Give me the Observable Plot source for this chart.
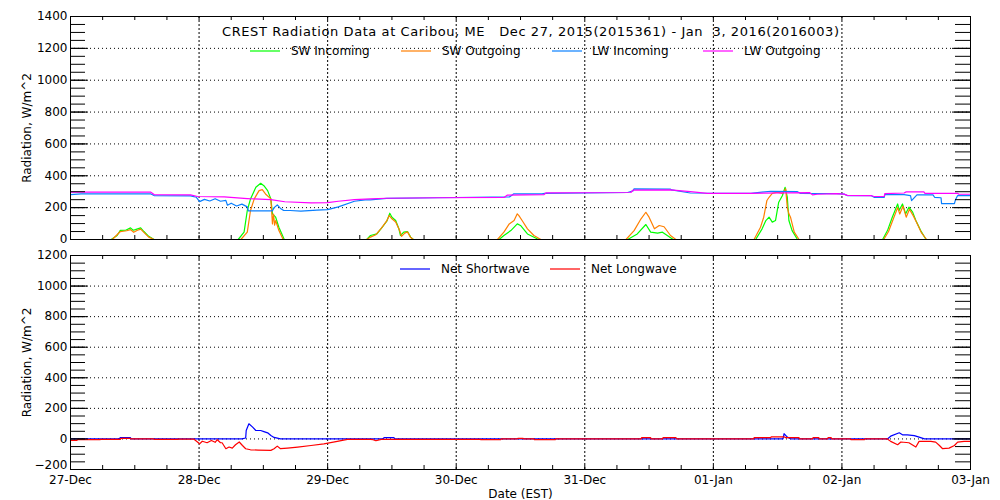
<!DOCTYPE html>
<html><head><meta charset="utf-8">
<script src="https://cdn.jsdelivr.net/npm/d3@7"></script>
<script src="https://cdn.jsdelivr.net/npm/@observablehq/plot@0.6"></script>
<style>
body{margin:0;background:#fff;}
#chart{position:relative;width:1000px;height:500px;background:#fff;}
#chart svg{position:absolute;left:0;}
</style></head><body><div id="chart"></div>
<script>
// ---- tick/axis data ----
const xTickHours = [0,24,48,72,96,120,144,168];
const xTickLabels = ["27-Dec","28-Dec","29-Dec","30-Dec","31-Dec","01-Jan","02-Jan","03-Jan"];
const topYTicks = [0,200,400,600,800,1000,1200,1400];
const bottomYTicks = [-200,0,200,400,600,800,1000,1200];
const titleText = "CREST Radiation Data at Caribou, ME   Dec 27, 2015(2015361) - Jan  3, 2016(2016003)";
const yLabel = "Radiation, W/m^2";
const xLabel = "Date (EST)";
const topNames = ["SW Incoming","SW Outgoing","LW Incoming","LW Outgoing"];
const topColors = ["#00ff00","#ff7f00","#0a80ff","#ff00ff"];
const bottomNames = ["Net Shortwave","Net Longwave"];
const bottomColors = ["#0000ff","#ff0000"];

// ---- series: [hours since 27-Dec 00:00 EST, W/m^2] ----
const swIncoming = [
 [0,0],[7.6,0],[8.7,25],[9.3,57],[10.3,58],[11.2,73],[11.7,58],[12.1,62],[13.1,73],[13.7,50],[14.6,20],[15.6,0],
 [31.3,0],[32.4,46],[33.0,182],[33.6,255],[34.6,328],[35.5,353],[36.1,338],[36.8,307],[37.4,255],[37.7,161],[38.3,140],[38.9,77],[39.9,0],
 [55.3,0],[56,25],[57.2,35],[58.2,77],[59.1,119],[59.6,165],[60,140],[60.7,119],[61.3,67],[61.6,25],[62.2,46],[62.9,50],[63.5,15],[64,0],
 [80,0],[80.9,25],[82.2,56],[83.4,98],[84,88],[85.3,35],[87.1,5],[87.5,0],
 [104,0],[105.8,35],[107.4,94],[108.3,46],[109.6,40],[110.5,46],[111.4,25],[112.5,0],
 [127.9,0],[129.1,67],[129.8,119],[130.4,140],[131,109],[131.6,119],[132.2,234],[132.9,276],[133.4,328],[133.8,266],[134.1,119],[134.7,56],[135.7,0],
 [151.6,0],[152.5,56],[153.4,140],[154.4,223],[154.7,183],[155.3,223],[155.9,161],[156.5,203],[157.2,172],[157.8,119],[158.7,56],[159.7,0],[168,0]
];
const swOutgoing = [
 [0,0],[7.8,0],[9.3,50],[10.5,55],[11.2,62],[11.8,45],[12.5,58],[13.1,65],[13.7,45],[14.6,15],[15.6,0],
 [31.8,0],[33,46],[33.6,182],[34.3,255],[35.2,307],[35.8,313],[36.4,286],[37.4,255],[37.7,98],[37.9,160],[38.1,90],[38.3,119],[38.9,56],[39.7,0],
 [55.3,0],[56,15],[57,30],[58,70],[59,115],[59.5,150],[60,130],[60.7,110],[61.4,60],[61.8,20],[62.4,40],[62.9,48],[63.5,12],[64,0],
 [79.7,0],[80.9,46],[81.9,98],[82.8,119],[83.4,161],[83.7,150],[84.3,119],[85.3,67],[86.5,25],[87.8,0],
 [103.7,0],[105.2,56],[106.5,130],[107.4,171],[108,140],[109,67],[109.9,88],[110.8,80],[112,25],[113,0],
 [127.6,0],[128.8,77],[129.4,140],[130,245],[130.4,265],[131,290],[131.9,297],[132.9,290],[133.5,318],[133.8,203],[134.1,161],[134.4,140],[135.1,46],[136,0],
 [151.8,0],[152.7,50],[153.6,130],[154.4,200],[154.8,160],[155.4,210],[156,140],[156.6,190],[157.3,150],[157.9,110],[158.8,45],[159.8,0],[168,0]
];
const lwIncoming = [
 [0,282],[2,286],[15,286],[15.6,276],[22.4,274],[23.5,265],[24.1,238],[25,252],[26,242],[27,256],[28,240],[29,246],[29.3,215],[30,228],[31,210],[32,222],[33,205],[33.2,180],[37.7,180],[38,200],[38.6,217],[39.2,195],[39.8,182],[41,182],[43,178],[46,184],[48,188],[50,205],[53,240],[55,249],
 [56,249],[59,258],[68.5,262],[82,268],[82.7,286],[88,286],[88.5,290],[104,295],[105,305],[105.2,318],[112,316],
 [112.2,311],[115.7,292],[127,290],[130.7,303],[135.7,300],[136.2,290],[143,288],[144.4,285],[145,276],[149.4,276],[150,265],[151.9,265],[152,282],[155.6,282],[156.8,276],[157,244],[158,280],[161,280],[161.3,265],[162.5,262],[162.6,225],[165,225],[165.2,250],[165.6,276],[168,276]
];
const lwOutgoing = [
 [0,298],[15,297],[15.6,282],[22.4,280],[23.7,270],[28.7,267],[33,257],[37.4,250],[40,237],[44.9,230],[48,231],[50,240],[53,250],[56,255],
 [59,259],[68.5,262],[81,265],[81.5,278],[88.4,282],[88.8,293],[104.6,295],[105,310],[112,311],
 [115.7,300],[118.9,290],[127,290],[133.2,293],[138,294],[138.5,280],[139.4,284],[143,288],[144.4,285],[145,277],[149.4,276],[150,270],[151.9,270],[152,288],[155.6,292],[156,299],[159.3,299],[159.5,290],[165.6,290],[165.8,284],[168,284]
];
const netShortwave = [
 [0,0],[9,0],[9.3,8],[11.2,8],[11.3,0],[32,0],[32.7,6],[32.8,55],[33.3,99],[34,77],[34.6,55],[35.5,55],[36.1,48],[36.8,40],[37.4,22],[38,10],[39.2,0],
 [58.4,0],[58.5,8],[60.4,8],[60.5,0],[133,0],[133.2,34],[133.8,12],[134.5,0],
 [152.5,0],[153.1,18],[154.7,40],[155.3,27],[156.2,27],[157.5,22],[158.4,12],[159.4,0],[168,0]
];
const netLongwave = [
 [0,-10],[1.2,-10],[1.3,-5],[5.5,-5],[5.6,-3],[9.3,-3],[9.4,4],[11.2,4],[11.3,0],[15.5,0],[15.6,-3],[20,-3],[20.1,-1],[23,-1],[23.7,-20],[24.1,-32],[24.6,-15],[25.5,-25],[26.3,-10],[27,-22],[27.4,-5],[28,-25],[28.3,-25],[29,-64],[29.6,-53],[30.2,-60],[30.8,-38],[31.5,-20],[32.1,-43],[32.7,-64],[33.6,-71],[35,-73],[37.4,-75],[38,-64],[38.6,-47],[39.2,-64],[40.5,-60],[42.4,-53],[44.9,-43],[47.3,-32],[49.8,-16],[51.7,-3],
 [56,-3],[56.5,-5],[57,-12],[58,-3],[76.5,-3],[76.6,-5],[80.3,-5],[80.4,0],[83.4,0],[83.5,4],[84.5,4],[84.6,0],[86.5,0],[86.6,-5],[90.5,-5],[90.6,0],[106.5,0],[106.6,8],[108.3,8],[108.4,0],[110.5,0],[110.6,8],[113,8],[113.2,0],
 [127.5,0],[127.6,8],[130.7,8],[130.8,14],[133.2,14],[133.5,8],[136,8],[136.1,0],[138.5,0],[138.6,8],[139.7,8],[139.8,0],[141.3,0],[141.4,8],[142,8],[142.1,0],[145.6,0],[145.7,-5],[148.2,-5],[148.3,0],
 [152.5,0],[153.1,-16],[154.4,-38],[155,-20],[156.5,-25],[157.8,-53],[158.4,-16],[160.6,-16],[161.5,-21],[162.2,-43],[162.8,-64],[164,-60],[165,-43],[165.6,-21],[166.8,-16],[168,-16]
];

const FONT = '"DejaVu Sans", sans-serif';
const frameW = 900;
const minorX = d3.range(0, 169, 6);

function panel({height, marginTop, marginBottom, yDomain, yTicks, series, colors, showX}) {
  const frameH = height - marginTop - marginBottom;
  const minorY = d3.range(yDomain[0], yDomain[1] + 1, 50);
  const lowest = showX ? [yTicks[0]] : [];
  const marks = [
    Plot.gridY({ticks: yTicks.filter(t => t > yDomain[0] && t < yDomain[1]), stroke: "black", strokeOpacity: 1, strokeDasharray: "1,3"}),
    Plot.gridX({ticks: xTickHours.slice(1, -1), stroke: "black", strokeOpacity: 1, strokeDasharray: "2,2"}),
    ...series.map((s, i) => Plot.line(s, {x: d => d[0], y: d => d[1], stroke: colors[i], strokeWidth: 1.2})),
    Plot.tickY(minorY, {y: d => d, insetRight: frameW - 15, stroke: "black"}),
    Plot.tickY(minorY, {y: d => d, insetLeft: frameW - 15, stroke: "black"}),
    Plot.tickY(yTicks, {y: d => d, insetRight: frameW - 18, stroke: "black"}),
    Plot.tickY(yTicks, {y: d => d, insetLeft: frameW - 18, stroke: "black"}),
    Plot.tickX(minorX, {x: d => d, insetTop: frameH - 4, stroke: "black"}),
    Plot.tickX(minorX, {x: d => d, insetBottom: frameH - 4, stroke: "black"}),
    Plot.axisY({ticks: yTicks.filter(t => !lowest.includes(t)), tickSize: 0, tickPadding: 3, tickFormat: d3.format("d"), label: yLabel, labelAnchor: "center", labelArrow: "none", labelOffset: 48, fontSize: 12}),
    Plot.frame({stroke: "black"})
  ];
  if (showX) {
    marks.push(Plot.axisY({ticks: lowest, tickSize: 0, tickPadding: 3, dy: -4, tickFormat: d3.format("d"), label: null, fontSize: 12}));
    marks.push(Plot.axisX({ticks: xTickHours, tickSize: 0, tickPadding: 6,
      tickFormat: d => xTickLabels[xTickHours.indexOf(d)],
      label: xLabel, labelAnchor: "center", labelArrow: "none", labelOffset: 28, fontSize: 12}));
  }
  return Plot.plot({
    width: 1000, height, marginLeft: 70, marginRight: 30, marginTop, marginBottom,
    style: {fontFamily: FONT, fontSize: "12px", color: "black", background: "transparent", overflow: "visible"},
    x: {domain: [0, 168], axis: null},
    y: {domain: yDomain, axis: null},
    marks
  });
}

const chartDiv = document.getElementById("chart");

const bottomSvg = panel({height: 260, marginTop: 15, marginBottom: 31, yDomain: [-200, 1200], yTicks: bottomYTicks,
  series: [netShortwave, netLongwave], colors: bottomColors, showX: true});
bottomSvg.style.top = "240px";
chartDiv.appendChild(bottomSvg);

const topSvg = panel({height: 241, marginTop: 16, marginBottom: 2, yDomain: [0, 1400], yTicks: topYTicks,
  series: [swIncoming, swOutgoing, lwIncoming, lwOutgoing], colors: topColors, showX: false});
topSvg.style.top = "0px";
chartDiv.appendChild(topSvg);

// title & legends
function legend(svg, names, colors, lineX, textX, y) {
  const g = d3.select(svg).append("g").attr("font-family", FONT).attr("font-size", 12).attr("text-anchor", "start");
  names.forEach((n, i) => {
    g.append("line").attr("x1", lineX[i]).attr("x2", lineX[i] + 30).attr("y1", y).attr("y2", y)
      .attr("stroke", colors[i]).attr("stroke-width", 1.2);
    g.append("text").attr("x", textX[i]).attr("y", y).attr("dy", "0.35em").attr("fill", "black").text(n);
  });
  return g;
}
d3.select(topSvg).append("text").attr("x", 222).attr("y", 31).attr("dy", "0.35em").attr("text-anchor", "start")
  .attr("font-family", FONT).attr("font-size", 13).attr("fill", "black")
  .attr("textLength", 617).attr("lengthAdjust", "spacing")
  .style("white-space", "pre").text(titleText);
legend(topSvg, topNames, topColors, [250, 401, 552, 703], [291, 442, 592, 744], 51);
legend(bottomSvg, bottomNames, bottomColors, [400, 550], [441, 591], 29);
</script></body></html>
